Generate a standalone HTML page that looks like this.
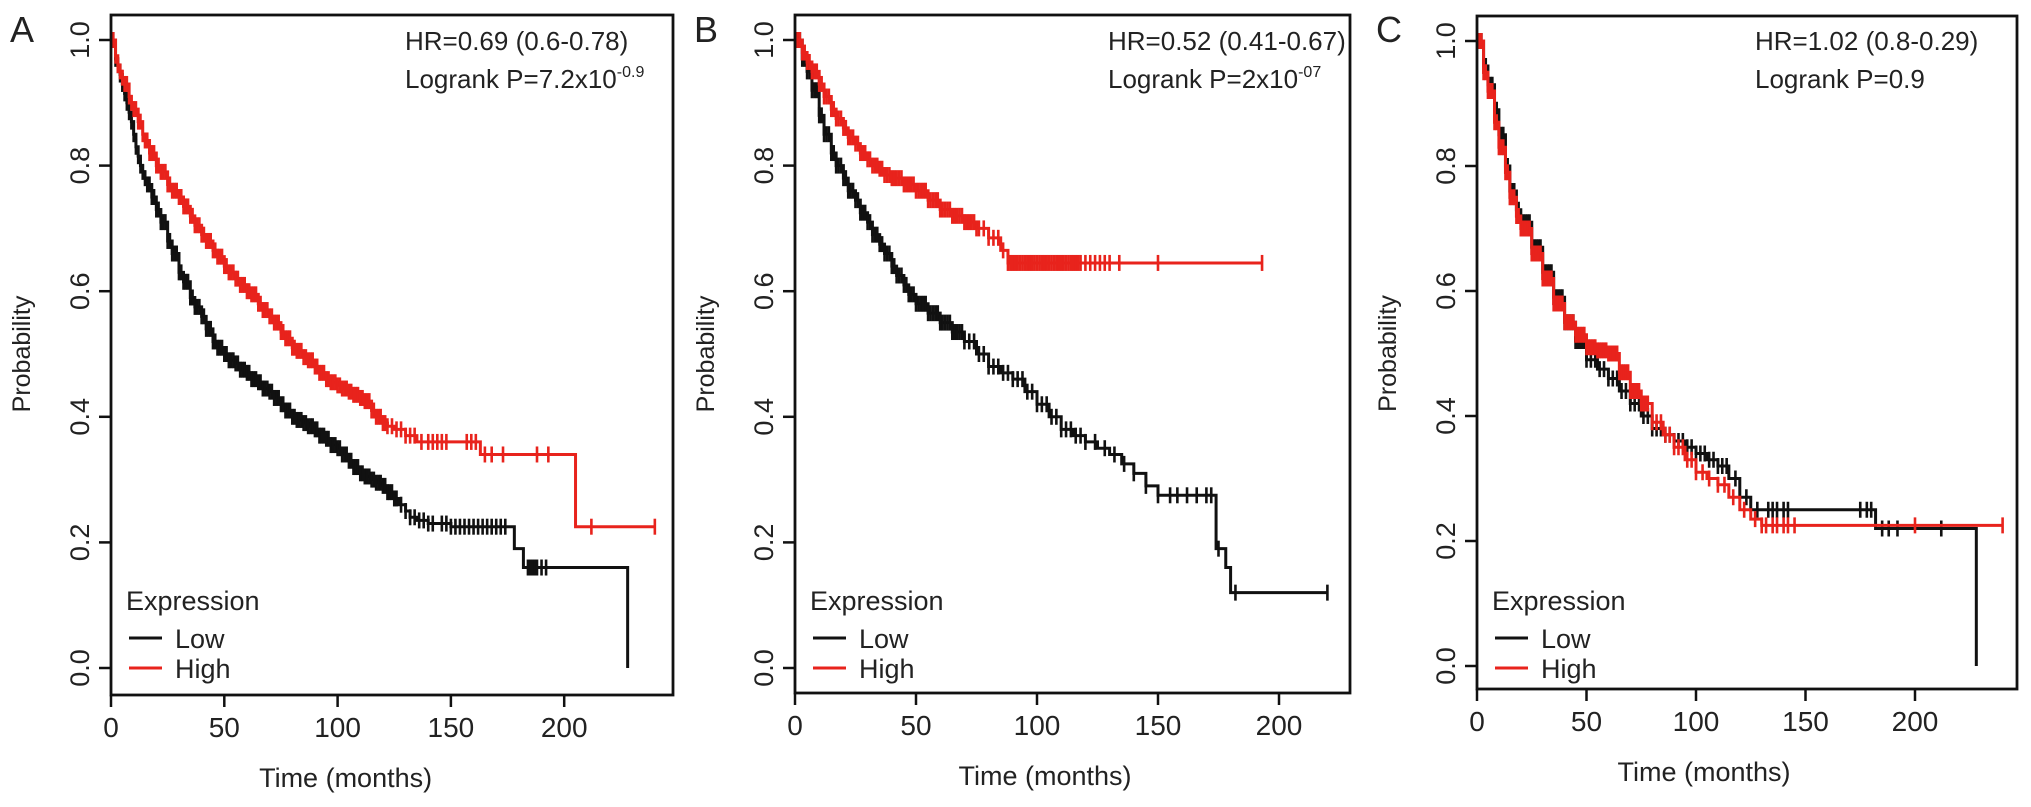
<!DOCTYPE html>
<html><head><meta charset="utf-8"><style>
html,body{margin:0;padding:0;background:#fff;}
svg{display:block;font-family:"Liberation Sans",Arial,sans-serif;}
</style></head><body>
<svg id="chart" width="2031" height="807" viewBox="0 0 2031 807" xmlns="http://www.w3.org/2000/svg"></svg>
<script>
// ---- data ----
const xTicks = [0, 50, 100, 150, 200];
const yTicks = [0.0, 0.2, 0.4, 0.6, 0.8, 1.0];
const yTickLabels = ["0.0", "0.2", "0.4", "0.6", "0.8", "1.0"];

const aLowT = [0,2,3,4,5,6,7,8,9,10,11,12,13,14,15,16,18,20,22,25,27,30,32,35,37,40,42,45,47,50,52,55,57,60,62,65,67,70,72,75,77,80,82,85,87,90,92,95,97,100,102,105,107,110,112,115,117,120,122,125,127,130,132,135,140,150,175,178,182,228];
const aLowS = [1,0.97,0.96,0.945,0.93,0.915,0.9,0.885,0.87,0.85,0.83,0.815,0.8,0.79,0.78,0.77,0.75,0.73,0.71,0.68,0.66,0.63,0.615,0.59,0.575,0.56,0.54,0.52,0.51,0.50,0.49,0.485,0.475,0.47,0.46,0.455,0.445,0.44,0.43,0.42,0.41,0.40,0.395,0.39,0.385,0.38,0.37,0.365,0.355,0.35,0.34,0.33,0.32,0.31,0.305,0.30,0.295,0.29,0.28,0.27,0.26,0.25,0.24,0.235,0.23,0.225,0.225,0.19,0.16,0.16];
const aLowC = [1,2,3,4,5,6,7,8,9,10,11,12,13,14,15,16,17,18,19,20,21,22,23,24,25,26,27,28,29,30,31,32,33,34,35,36,37,38,39,40,41,42,43,44,45,46,47,48,49,50,51,52,53,54,55,56,57,58,59,60,61,62,63,64,65,66,67,68,69,70,71,72,73,74,75,76,77,78,79,80,81,82,83,84,85,86,87,88,89,90,91,92,93,94,95,96,97,98,99,100,101,102,103,104,105,106,107,108,109,110,111,112,113,114,115,116,117,118,119,120,121,122,123,124,125,126,128,130,132,134,136,138,140,142,146,148,150,152,154,156,158,160,162,164,166,168,170,172,174,184,185,186,187,188,190,192];
const aHighT = [0,2,3,4,5,6,8,9,10,12,14,15,17,20,22,25,27,30,32,35,37,40,42,45,47,50,52,55,57,60,62,65,67,70,72,75,77,80,82,85,87,90,92,95,97,100,102,105,107,110,112,115,117,120,122,125,130,135,160,163,205];
const aHighS = [1,0.975,0.96,0.95,0.94,0.93,0.91,0.9,0.89,0.87,0.85,0.84,0.82,0.80,0.79,0.77,0.76,0.75,0.735,0.72,0.705,0.69,0.68,0.665,0.655,0.64,0.63,0.62,0.61,0.60,0.595,0.58,0.57,0.56,0.55,0.535,0.525,0.51,0.505,0.495,0.49,0.48,0.47,0.46,0.455,0.45,0.445,0.44,0.435,0.43,0.425,0.41,0.40,0.39,0.385,0.38,0.37,0.36,0.36,0.34,0.225];
const aHighC = [1,2,3,4,5,6,7,8,9,10,11,12,13,14,15,16,17,18,19,20,21,22,23,24,25,26,27,28,29,30,31,32,33,34,35,36,37,38,39,40,41,42,43,44,45,46,47,48,49,50,51,52,53,54,55,56,57,58,59,60,61,62,63,64,65,66,67,68,69,70,71,72,73,74,75,76,77,78,79,80,81,82,83,84,85,86,87,88,89,90,91,92,93,94,95,96,97,98,99,100,101,102,103,104,105,106,107,108,109,110,111,112,113,114,115,116,117,118,119,120,121,122,124,126,128,130,132,134,137,140,142,144,146,148,157,159,161,165,168,173,188,193,212,240];

const bLowT = [0,3,5,7,10,12,15,17,20,22,25,27,30,32,35,37,40,42,45,47,50,55,60,65,70,75,80,85,90,95,100,105,110,115,120,125,130,135,140,145,150,172,174,178,180];
const bLowS = [1,0.97,0.95,0.92,0.88,0.85,0.82,0.80,0.78,0.76,0.745,0.725,0.71,0.69,0.675,0.66,0.64,0.625,0.61,0.595,0.58,0.565,0.55,0.535,0.52,0.50,0.48,0.47,0.46,0.44,0.42,0.40,0.38,0.37,0.36,0.35,0.34,0.325,0.31,0.29,0.275,0.275,0.19,0.16,0.12];
const bLowC = [1,2,3,4,5,6,7,8,9,10,11,12,13,14,15,16,17,18,19,20,21,22,23,24,25,26,27,28,29,30,31,32,33,34,35,36,37,38,39,40,41,42,43,44,45,46,47,48,49,50,51,52,53,54,55,56,57,58,59,60,61,62,63,64,65,66,67,68,69,70,72,74,76,78,80,82,84,86,88,90,92,94,96,98,100,102,104,106,108,110,112,114,116,118,120,124,128,132,136,140,145,150,155,158,162,166,170,172,175,182,220];
const bHighT = [0,3,5,7,10,12,15,17,20,22,25,27,30,32,35,37,40,45,50,55,60,65,70,75,80,85,88];
const bHighS = [1,0.98,0.965,0.95,0.93,0.91,0.89,0.875,0.86,0.845,0.835,0.82,0.81,0.80,0.795,0.785,0.78,0.77,0.76,0.745,0.73,0.72,0.71,0.70,0.685,0.665,0.645];
const bHighC = [1,2,3,4,5,6,7,8,9,10,11,12,13,14,15,16,17,18,19,20,21,22,23,24,25,26,27,28,29,30,31,32,33,34,35,36,37,38,39,40,41,42,43,44,45,46,47,48,49,50,51,52,53,54,55,56,57,58,59,60,61,62,63,64,65,66,67,68,69,70,71,72,73,74,75,76,78,80,82,84,86,88,89,90,91,92,93,94,95,96,97,98,99,100,101,102,103,104,105,106,107,108,109,110,111,112,113,114,115,116,117,118,120,122,124,126,128,130,134,150,193];

const cLowT = [0,3,5,8,10,13,15,18,20,25,30,35,40,45,50,55,60,65,70,75,80,85,90,95,100,105,110,115,120,125,180,182,228];
const cLowS = [1,0.96,0.93,0.89,0.85,0.80,0.76,0.73,0.71,0.67,0.63,0.59,0.55,0.52,0.49,0.475,0.46,0.44,0.42,0.40,0.38,0.37,0.36,0.35,0.34,0.33,0.32,0.30,0.27,0.25,0.25,0.22,0.22];
const cLowC = [1,2,3,4,5,6,7,8,9,10,11,12,13,14,15,16,17,18,19,20,21,22,23,24,25,26,27,28,29,30,31,32,33,34,35,36,37,38,39,40,41,42,43,44,45,46,47,48,49,50,52,54,56,58,60,62,64,66,68,70,72,74,76,78,80,82,84,86,88,90,92,94,96,98,100,102,104,106,108,110,112,114,118,123,128,133,135,137,140,142,175,178,180,185,188,192,212];
const cHighT = [0,3,5,8,10,13,15,18,20,25,30,35,40,45,50,55,60,65,70,75,80,85,90,95,100,105,110,115,120,125,130];
const cHighS = [1,0.95,0.92,0.87,0.83,0.79,0.75,0.72,0.70,0.66,0.62,0.58,0.55,0.53,0.51,0.505,0.50,0.47,0.44,0.42,0.39,0.37,0.35,0.33,0.31,0.30,0.29,0.27,0.25,0.235,0.225];
const cHighC = [1,2,3,4,5,6,7,8,9,10,11,12,13,14,15,16,17,18,19,20,21,22,23,24,25,26,27,28,29,30,31,32,33,34,35,36,37,38,39,40,41,42,43,44,45,46,47,48,49,50,51,52,53,54,55,56,57,58,59,60,61,62,63,64,65,66,67,68,69,70,71,72,73,74,75,76,77,78,80,82,84,86,88,90,92,94,96,98,100,103,106,110,113,117,122,127,130,132,135,137,140,142,145,200,240];

// ---- rendering ----
const NS = "http://www.w3.org/2000/svg";
const svg = document.getElementById("chart");
function mk(tag, attrs, parent) {
  const e = document.createElementNS(NS, tag);
  for (const k in attrs) e.setAttribute(k, attrs[k]);
  (parent || svg).appendChild(e);
  return e;
}
function stepAt(T, S, t) {
  let s = S[0];
  for (let i = 0; i < T.length; i++) { if (T[i] <= t) s = S[i]; else break; }
  return s;
}

const panels = [
  {letter:"A", left:111, right:673, top:15, bottom:695, x0:111, x50:113.3, y0:668, y1:40,
   hr:"HR=0.69 (0.6-0.78)", p:"7.2x10", sup:"-0.9", hrx:405,
   low:[aLowT,aLowS,aLowC,228], high:[aHighT,aHighS,aHighC,240], lowDrop:228},
  {letter:"B", left:795, right:1350, top:15, bottom:693, x0:795, x50:121, y0:668, y1:40,
   hr:"HR=0.52 (0.41-0.67)", p:"2x10", sup:"-07", hrx:1108,
   low:[bLowT,bLowS,bLowC,220], high:[bHighT,bHighS,bHighC,193], lowDrop:null},
  {letter:"C", left:1477, right:2017, top:16, bottom:689, x0:1477, x50:109.5, y0:666, y1:41,
   hr:"HR=1.02 (0.8-0.29)", p:"0.9", sup:"", hrx:1755,
   low:[cLowT,cLowS,cLowC,228], high:[cHighT,cHighS,cHighC,240], lowDrop:228}
];

panels.forEach((P, pi) => {
  const g = mk("g", {});
  
  
  const xs = t => P.x0 + t * P.x50 / 50;
  const ys = v => P.y0 - v * (P.y0 - P.y1);

  const lt = mk("text", {x: P.left - 101, y: 42, "font-size": 36, fill: "#222"}, g);
  lt.textContent = P.letter;
  
  

  function drawSeries(def, color, name, dropTo0) {
    const [T, S, C, end] = def;
    let d = "M" + xs(T[0]) + "," + ys(S[0]);
    for (let i = 1; i < T.length; i++) d += " H" + xs(T[i]) + " V" + ys(S[i]);
    d += " H" + xs(end);
    if (dropTo0 !== null && dropTo0 !== undefined) d += " V" + ys(0);
    const path = mk("path", {d: d, fill: "none", stroke: color, "stroke-width": 3}, g);
    
    
    const cg = mk("g", {stroke: color, "stroke-width": 2.6}, g);
    
    
    C.forEach(t => {
      const x = xs(t), y = ys(stepAt(T, S, t));
      mk("line", {x1: x, x2: x, y1: y - 8, y2: y + 8}, cg);
    });
  }
  drawSeries(P.low, "#111", "low-expression", P.lowDrop);
  drawSeries(P.high, "#e8231c", "high-expression", null);

  const box = mk("rect", {x: P.left, y: P.top, width: P.right - P.left, height: P.bottom - P.top, fill: "none", stroke: "#111", "stroke-width": 2.8}, g);
  
  

  xTicks.forEach(t => {
    const x = xs(t);
    mk("line", {x1: x, x2: x, y1: P.bottom, y2: P.bottom + 12, stroke: "#111", "stroke-width": 2.5}, g);
    const tx = mk("text", {x: x, y: P.bottom + 42, "font-size": 28, "text-anchor": "middle", fill: "#222"}, g);
    tx.textContent = String(t);
    
    
  });
  const xt = mk("text", {x: xs(100) + 8, y: P.bottom + 92, "font-size": 27, "text-anchor": "middle", fill: "#222"}, g);
  xt.textContent = "Time (months)";
  
  

  yTicks.forEach((v, i) => {
    const y = ys(v);
    mk("line", {x1: P.left - 12, x2: P.left, y1: y, y2: y, stroke: "#111", "stroke-width": 2.5}, g);
    const tx = mk("text", {x: 0, y: 0, "font-size": 27, "text-anchor": "middle", fill: "#222",
      transform: "translate(" + (P.left - 22) + "," + y + ") rotate(-90)"}, g);
    tx.textContent = yTickLabels[i];
    
    
  });
  const yt = mk("text", {x: 0, y: 0, "font-size": 25, "text-anchor": "middle", fill: "#222",
    transform: "translate(" + (P.left - 81) + "," + ys(0.5) + ") rotate(-90)"}, g);
  yt.textContent = "Probability";
  
  

  const h = mk("text", {x: P.hrx, y: 50, "font-size": 26, fill: "#222"}, g);
  h.textContent = P.hr;
  
  
  const lp = mk("text", {x: P.hrx, y: 88, "font-size": 26, fill: "#222"}, g);
  
  
  lp.appendChild(document.createTextNode("Logrank P=" + P.p));
  if (P.sup) {
    const s = mk("tspan", {"font-size": 16, dy: -11}, lp);
    s.textContent = P.sup;
  }

  const lg = mk("g", {}, g);
  
  
  const lh = mk("text", {x: P.left + 15, y: 610, "font-size": 27, fill: "#222"}, lg);
  lh.textContent = "Expression";
  
  
  [["Low", "#111", 638], ["High", "#e8231c", 668]].forEach(([lab, col, y]) => {
    const ln = mk("line", {x1: P.left + 18, x2: P.left + 51, y1: y, y2: y, stroke: col, "stroke-width": 3}, lg);
    
    
    const tx = mk("text", {x: P.left + 64, y: y + 10, "font-size": 27, fill: "#222"}, lg);
    tx.textContent = lab;
    
    
  });
});
</script>
</body></html>
